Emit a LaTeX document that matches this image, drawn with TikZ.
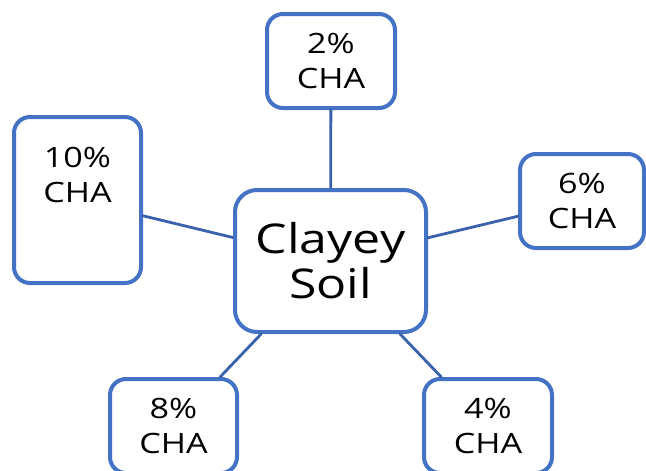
\documentclass[tikz,border=0pt]{standalone}
\usepackage{fontspec}
\setmainfont{Open Sans}[FakeStretch=1.22]
\usetikzlibrary{positioning}
\definecolor{boxblue}{HTML}{4472C4}
\definecolor{lineblue}{HTML}{3A61AC}
\begin{document}
\begin{tikzpicture}[x=1pt, y=-1pt, line join=round, line cap=round]
	\tikzset{b/.style={draw=boxblue, line width=4pt, fill=white, rounded corners=16pt, minimum width=128pt, minimum height=94pt, inner sep=0pt, align=center, font=\fontsize{28}{34.5}\selectfont},
		t/.style={inner sep=0pt, align=center, font=\fontsize{28}{34.5}\selectfont}}
	\useasboundingbox (0,0) rectangle (646,471);
	\clip (0,0) rectangle (646,471);
	\path(330.5,261)node[b, minimum width=191pt, minimum height=142pt, rounded corners=22pt, font=\fontsize{41}{45}\selectfont](C){Clayey\\Soil};
	\path(331,61)node[b](T){2\%\\CHA};
	\path(582,201)node[b, minimum width=124pt](R){6\%\\CHA};
	\path(488,426)node[b](BR){4\%\\CHA};
	\path(173.5,426)node[b, minimum width=127pt](BL){8\%\\CHA};
	\path(77.5,200)node[b, minimum width=127pt, minimum height=166pt](L){};
	\node[t, below=32pt of L.north](Lt){10\%\\CHA};
	\foreach \x in {T,R,BR,BL,L}
	\draw[lineblue, line width=2.8pt](C)--(\x);
\end{tikzpicture}
\end{document}
